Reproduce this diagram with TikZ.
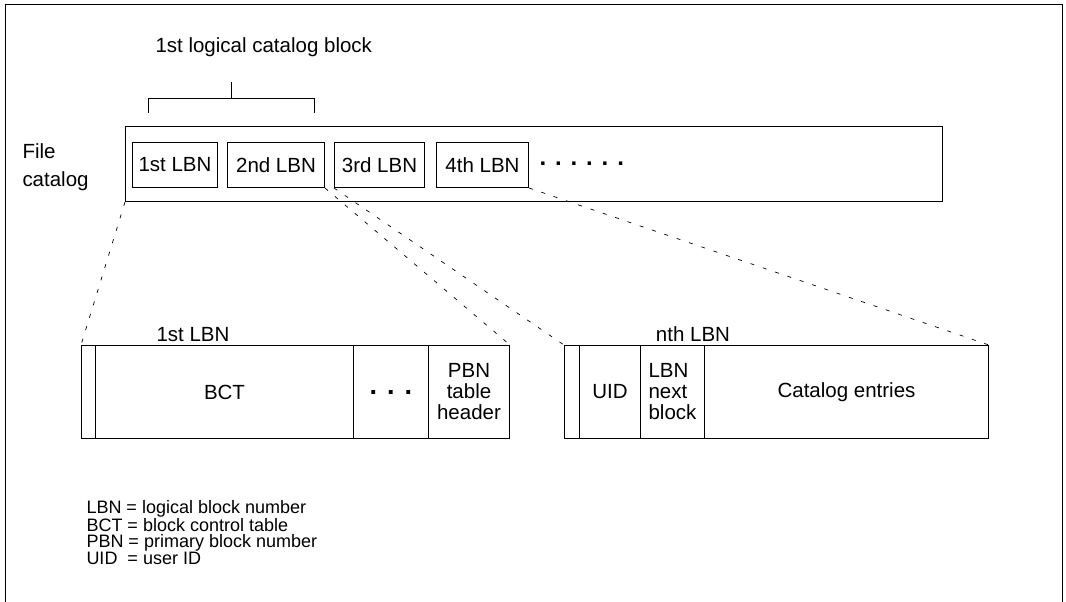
\documentclass[tikz,border=0pt]{standalone}
\usepackage{fontspec}
\setmainfont{Liberation Sans}
\usepackage{tikz}
\usetikzlibrary{calc}

\begin{document}
\begin{tikzpicture}[x=1pt,y=-1pt,line width=1pt,
		font=\fontsize{20.5}{21}\selectfont,
		cell/.style={draw,anchor=north west,inner sep=0pt,align=center},
		link/.style={line width=0.7pt,dash pattern=on 4pt off 9pt}]
		\useasboundingbox (0,0) rectangle (1066,602);
		\draw (5,602) -- (5,4.5) -- (1062,4.5) -- (1062,602);

		\node[anchor=base west,inner sep=0pt] (title) at (155,53) {1st logical catalog block};
		\coordinate (brtop) at (231,82);
		\coordinate (brmid) at (231,98.5);
		\coordinate (brl) at (148,113);
		\coordinate (brr) at (314,113);
		\draw (brl) -- (brl |- brmid) -- (brr |- brmid) -- (brr);
		\draw (brmid) -- (brtop);

		\node[anchor=north west,inner sep=0pt,align=left,font=\fontsize{20.5}{28}\selectfont] (filelbl) at (22,143.5) {File\\catalog};

		\node[cell,minimum width=817pt,minimum height=75pt] (catalog) at (125,126) {};
		\node[cell,minimum width=85pt,minimum height=45pt] (lbn1) at (132,142) {1st LBN};
		\node[cell,minimum width=97pt,minimum height=45pt] (lbn2) at (227,142) {2nd LBN};
		\node[cell,minimum width=90pt,minimum height=45pt] (lbn3) at (334,142) {3rd LBN};
		\node[cell,minimum width=92pt,minimum height=45pt] (lbn4) at (436,142) {4th LBN};
		\node[anchor=west,inner sep=0pt,font=\fontsize{24}{24}\bfseries] (more) at (539,164) {. . . . . .};

		\begin{scope}[every node/.append style={minimum height=93pt}]
			\node[cell,minimum width=14pt] (a0) at (81,345) {};
			\node[cell,minimum width=258pt] (bct) at (95,345) {BCT};
			\node[cell,minimum width=75pt,font=\fontsize{27}{27}\bfseries] (adots) at (353,345) {. . .};
			\node[cell,minimum width=81pt] (pbn) at (428,345) {PBN\\table\\header};

			\node[cell,minimum width=15pt] (b0) at (564,345) {};
			\node[cell,minimum width=61pt] (uid) at (579,345) {UID};
			\node[cell,minimum width=64pt,align=left] (nxt) at (640,345) {LBN\\next\\block};
			\node[cell,minimum width=284pt] (entries) at (704,345) {Catalog entries};
		\end{scope}

		\node[anchor=base,inner sep=0pt] (first) at (193,341) {1st LBN};
		\node[anchor=base,inner sep=0pt] (nth) at (693,341) {nth LBN};

		\begin{scope}[link]
			\draw (catalog.south west) -- (a0.north west);
			\draw (lbn2.south east) -- (pbn.north east);
			\draw (lbn3.south west) -- (b0.north west);
			\draw (lbn4.south east) -- (entries.north east);
		\end{scope}

		\node[anchor=north west,inner sep=0pt,align=left,font=\fontsize{18}{16}\selectfont] (legend) at (86,500) {LBN = logical block number\\BCT = block control table\\PBN = primary block number\\UID\ \ = user ID};
	\end{tikzpicture}
\end{document}
